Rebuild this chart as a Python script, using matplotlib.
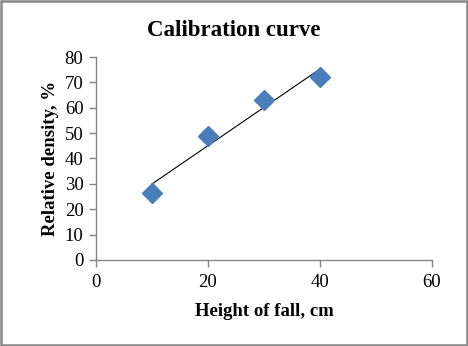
import numpy as np
import matplotlib.pyplot as plt
from matplotlib.patches import Rectangle

# height of fall (cm) and measured relative density (%)
height = np.array([10, 20, 30, 40])
density = np.array([26.4, 48.8, 63.2, 72.0])

plt.rcParams['font.family'] = ['Liberation Serif', 'DejaVu Serif']

fig = plt.figure(figsize=(4.68, 3.46), dpi=100)
ax = fig.add_axes([0.205, 0.249, 0.718, 0.586])

ax.plot(height, density, linestyle='none', marker='D', markersize=10,
        color='#4a7ebb', markeredgecolor='#4a7ebb', zorder=3)

# linear trendline over the measured range
k, b = np.polyfit(height, density, 1)
xs = np.array([height.min(), height.max()])
ax.plot(xs, k * xs + b, color='black', linewidth=0.8, zorder=2)

ax.set_xlim(0, 60)
ax.set_ylim(0, 80)
ax.set_xticks([0, 20, 40, 60])
ax.set_yticks(range(0, 81, 10))

for side in ('top', 'right'):
    ax.spines[side].set_visible(False)
for side in ('left', 'bottom'):
    ax.spines[side].set_color('#868686')
    ax.spines[side].set_linewidth(1.0)
ax.tick_params(colors='#868686', labelcolor='black', labelsize=13.5,
               length=5, width=1.0, direction='out')
ax.tick_params(axis='x', pad=5)
ax.tick_params(axis='y', pad=4)

# title is centred on the whole chart, not on the plot area
fig.text(0.5, 0.912, 'Calibration curve', fontsize=16.5, fontweight='bold',
         ha='center', va='center')
ax.set_xlabel('Height of fall, cm', fontsize=13.5, fontweight='bold', labelpad=9)
ax.set_ylabel('Relative density, %', fontsize=13.5, fontweight='bold', labelpad=4)

# grey frame round the whole chart
fig.patches.append(Rectangle((0.002, 0.003), 0.995, 0.994, transform=fig.transFigure,
                             fill=False, edgecolor='#868686', linewidth=1.8))

fig.savefig('out.png', dpi=100)
